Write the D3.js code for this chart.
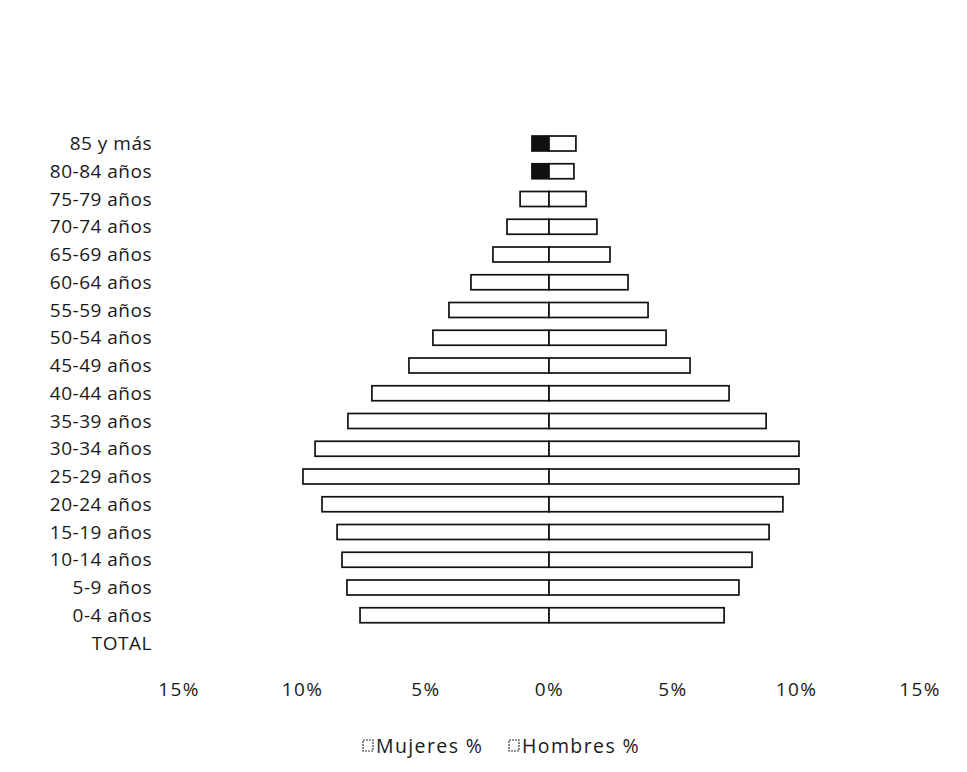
<!DOCTYPE html>
<html>
<head>
<meta charset="utf-8">
<script src="https://cdn.jsdelivr.net/npm/d3@7"></script>
<style>
  html, body { margin: 0; padding: 0; background: #fff; }
  svg { display: block; }
  text { font-family: "Open Sans", "Noto Sans", sans-serif; fill: #1a1a1a; }
</style>
</head>
<body>
<svg id="chart" width="967" height="772"></svg>
<script>
// ---- data ----
const categories = ["85 y más","80-84 años","75-79 años","70-74 años","65-69 años","60-64 años",
  "55-59 años","50-54 años","45-49 años","40-44 años","35-39 años","30-34 años","25-29 años",
  "20-24 años","15-19 años","10-14 años","5-9 años","0-4 años","TOTAL"];
const mujeres = [0.69,0.69,1.17,1.70,2.27,3.16,4.05,4.70,5.67,7.17,8.14,9.47,9.96,9.19,8.58,8.38,8.18,7.65,null];
const hombres = [1.09,1.01,1.50,1.94,2.47,3.20,4.01,4.74,5.71,7.29,8.79,10.12,10.12,9.47,8.91,8.22,7.69,7.09,null];
const tickValues = [-15,-10,-5,0,5,10,15];
const seriesNames = ["Mujeres %","Hombres %"];

// ---- layout / style ----
const darkFillCategories = ["85 y más","80-84 años"];
const svg = d3.select("#chart");

const x = d3.scaleLinear().domain([-15, 15]).range([178.5, 919.5]);
const y = d3.scalePoint().domain(categories).range([143.5, 643]);
const barH = y.step() * 0.54;

const rows = categories.map((c, i) => ({c, m: mujeres[i], h: hombres[i]}));

// women (left)
svg.append("g").selectAll("rect")
  .data(rows.filter(d => d.m != null))
  .join("rect")
  .attr("x", d => x(-d.m))
  .attr("y", d => y(d.c) - barH / 2)
  .attr("width", d => x(0) - x(-d.m))
  .attr("height", barH)
  .attr("fill", d => darkFillCategories.includes(d.c) ? "#111" : "#fff")
  .attr("stroke", "#111")
  .attr("stroke-width", 1.7);

// men (right)
svg.append("g").selectAll("rect")
  .data(rows.filter(d => d.h != null))
  .join("rect")
  .attr("x", x(0))
  .attr("y", d => y(d.c) - barH / 2)
  .attr("width", d => x(d.h) - x(0))
  .attr("height", barH)
  .attr("fill", "#fff")
  .attr("stroke", "#111")
  .attr("stroke-width", 1.7);

// category axis
const yAxis = svg.append("g")
  .attr("transform", "translate(154,0)")
  .call(d3.axisLeft(y).tickSize(0).tickPadding(2));
yAxis.select(".domain").remove();
yAxis.selectAll("text")
  .style("font-family", "'Open Sans', sans-serif")
  .style("font-size", "19px")
  .attr("letter-spacing", "0.5px")
  .attr("fill", "#1a1a1a");

// value axis
const xAxis = svg.append("g")
  .attr("transform", "translate(0,682)")
  .call(d3.axisBottom(x).tickValues(tickValues).tickSize(0).tickPadding(0)
    .tickFormat(d => Math.abs(d) + "%"));
xAxis.select(".domain").remove();
xAxis.selectAll("text")
  .style("font-family", "'Open Sans', sans-serif")
  .style("font-size", "19px")
  .attr("letter-spacing", "1.4px")
  .attr("fill", "#1a1a1a");

// legend
const legendX = [363, 509];
const leg = svg.append("g").selectAll("g")
  .data(seriesNames)
  .join("g")
  .attr("transform", (d, i) => `translate(${legendX[i]},740)`);
leg.append("rect")
  .attr("width", 10).attr("height", 11)
  .attr("fill", "#fff").attr("stroke", "#333").attr("stroke-width", 1.2)
  .attr("stroke-dasharray", "2,1");
leg.append("text")
  .attr("x", 13).attr("y", 13)
  .style("font-size", "19.5px")
  .attr("letter-spacing", "1.4px")
  .text(d => d);
</script>
</body>
</html>
